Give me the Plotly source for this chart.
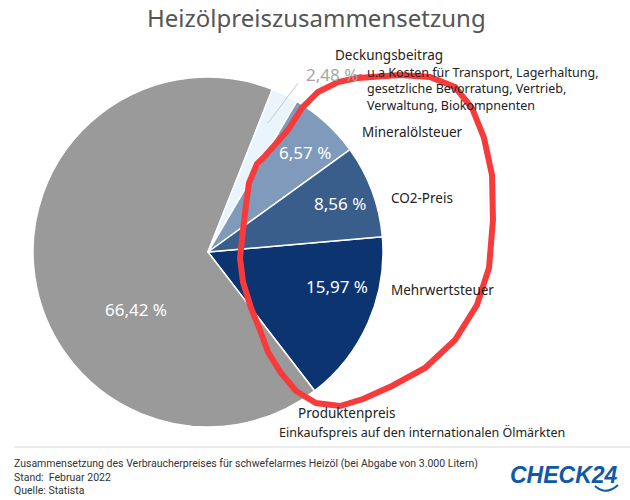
import plotly.graph_objects as go

W, H = 630, 500

categories = ["Mehrwertsteuer", "Produktenpreis", "Deckungsbeitrag", "Mineralölsteuer", "CO2-Preis"]
values = [15.97, 66.42, 2.48, 6.57, 8.56]
colors = ["#0b3470", "#9a9a9a", "#e9f4fc", "#7f9aba", "#3a5e8c"]
value_labels = ["15,97 %", "66,42 %", "2,48 %", "6,57 %", "8,56 %"]

def px(x):
    return x / W

def py(y):
    return 1 - y / H

cx, cy, r = 208, 252, 175

fig = go.Figure()
fig.add_trace(go.Pie(
    labels=categories, values=values, sort=False, direction="clockwise",
    rotation=85, marker=dict(colors=colors, line=dict(color="white", width=1.5)),
    textinfo="none", hoverinfo="none", showlegend=False,
    domain=dict(x=[px(cx - r), px(cx + r)], y=[py(cy + r), py(cy - r)]),
))

ann = []
def txt(x, y, s, size=13, color="#222", xanchor="left", family="Noto Sans", **kw):
    ann.append(dict(x=px(x), y=py(y), xref="paper", yref="paper", text=s, showarrow=False,
                    xanchor=xanchor, yanchor="middle", align="left",
                    font=dict(size=size, color=color, family=family), **kw))

# title
txt(316, 17, "Heizölpreiszusammensetzung", size=24, color="#555555", xanchor="center")

# percentage labels inside slices
label_pos = {"Mehrwertsteuer": (337, 286), "Produktenpreis": (136, 309),
             "Mineralölsteuer": (305, 152), "CO2-Preis": (340, 203)}
for c, lab in zip(categories, value_labels):
    if c in label_pos:
        x, y = label_pos[c]
        txt(x, y, lab, size=17, color="white", xanchor="center")
txt(332, 74, value_labels[2], size=17, color="#a6a6a6", xanchor="center")

# category labels
txt(333, 55, "Deckungsbeitrag", size=13.5)
txt(365, 89, "u.a Kosten für Transport, Lagerhaltung,<br>gesetzliche Bevorratung, Vertrieb,<br>Verwaltung, Biokompnenten", size=12.5)
txt(360, 132, "Mineralölsteuer", size=13.5)
txt(389, 198, "CO2-Preis", size=13.5)
txt(389, 290, "Mehrwertsteuer", size=13.5)
txt(296, 413, "Produktenpreis", size=13.5)
txt(277, 432, "Einkaufspreis auf den internationalen Ölmärkten", size=12.5)

# footer
txt(12, 477, "Zusammensetzung des Verbraucherpreises für schwefelarmes Heizöl (bei Abgabe von 3.000 Litern)<br>Stand:  Februar 2022<br>Quelle: Statista",
    size=10.5, color="#333", family="Roboto")
txt(620, 475, "<b><i>CHECK24</i></b>", size=23, color="#0e5aa8", xanchor="right", family="Liberation Sans")

shapes = []
# leader line
shapes.append(dict(type="line", xref="paper", yref="paper", x0=px(298), y0=py(83), x1=px(268), y1=py(123),
                   line=dict(color="#c8c8c8", width=1)))
# separator
shapes.append(dict(type="line", xref="paper", yref="paper", x0=px(14), y0=py(447), x1=px(630), y1=py(447),
                   line=dict(color="#d9d9d9", width=1)))

def path(pts, closed=False):
    s = "M " + " L ".join(f"{px(x):.4f},{py(y):.4f}" for x, y in pts)
    return s + (" Z" if closed else "")

red_pts = [(358, 78), (400, 75), (430, 77), (455, 87), (472, 108), (484, 138), (492, 175), (493, 220),
           (489, 268), (477, 305), (455, 340), (425, 368), (392, 386), (363, 399), (340, 406), (316, 403),
           (296, 391), (281, 373), (268, 352), (260, 330), (251, 308), (243, 282), (240, 258), (243, 230),
           (246, 205), (249, 183), (257, 164), (265, 156), (288, 130), (302, 108), (318, 92), (338, 82), (362, 77)]
shapes.append(dict(type="path", xref="paper", yref="paper", path=path(red_pts),
                   line=dict(color="#f73b3b", width=6)))
# logo smile
shapes.append(dict(type="path", xref="paper", yref="paper",
                   path=f"M {px(595):.4f},{py(486):.4f} Q {px(606):.4f},{py(496):.4f} {px(618):.4f},{py(485):.4f}",
                   line=dict(color="#0e5aa8", width=2)))

fig.update_layout(width=W, height=H, margin=dict(l=0, r=0, t=0, b=0),
                  paper_bgcolor="white", plot_bgcolor="white",
                  annotations=ann, shapes=shapes)
fig.write_html("out.html")
